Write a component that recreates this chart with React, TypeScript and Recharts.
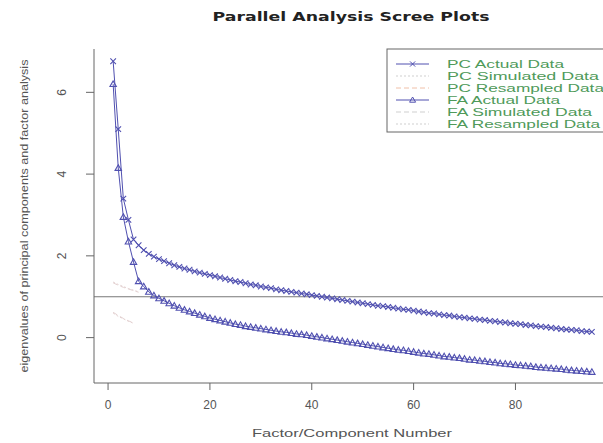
import React from "react";
import { ComposedChart, Line, XAxis, YAxis, ReferenceLine } from "recharts";

const title = "Parallel Analysis Scree Plots";
const xLabel = "Factor/Component Number";
const yLabel = "eigenvalues of principal components and factor analysis";
const xTicks = [0, 20, 40, 60, 80];
const yTicks = [0, 2, 4, 6];

const pcActual = [
  6.76, 5.1, 3.4, 2.88, 2.4, 2.26, 2.14, 2.05, 1.98, 1.92, 1.87, 1.82, 1.77, 1.73, 1.69, 1.66, 1.62, 1.59, 1.56, 1.53,
  1.5, 1.47, 1.44, 1.41, 1.38, 1.36, 1.33, 1.3, 1.28, 1.25, 1.23, 1.21, 1.18, 1.16, 1.14, 1.12, 1.1, 1.08, 1.06, 1.04,
  1.02, 1.0, 0.98, 0.96, 0.94, 0.92, 0.9, 0.88, 0.86, 0.84, 0.82, 0.8, 0.78, 0.77, 0.75, 0.73, 0.71, 0.69, 0.68, 0.66,
  0.64, 0.62, 0.6, 0.59, 0.57, 0.55, 0.54, 0.52, 0.5, 0.49, 0.47, 0.46, 0.44, 0.43, 0.41, 0.4, 0.38, 0.37, 0.35, 0.34,
  0.33, 0.31, 0.3, 0.28, 0.27, 0.26, 0.24, 0.23, 0.21, 0.2, 0.19, 0.18, 0.16, 0.15, 0.14,
];
const faActual = [
  6.2, 4.15, 2.95, 2.35, 1.85, 1.38, 1.25, 1.12, 1.03, 0.96, 0.9, 0.84, 0.78, 0.73, 0.68, 0.64, 0.6, 0.56, 0.52, 0.48,
  0.45, 0.42, 0.39, 0.36, 0.33, 0.31, 0.28, 0.26, 0.24, 0.22, 0.2, 0.18, 0.16, 0.14, 0.13, 0.11, 0.09, 0.08, 0.06, 0.04,
  0.02, 0.0, -0.02, -0.04, -0.06, -0.08, -0.1, -0.12, -0.14, -0.16, -0.18, -0.2, -0.22, -0.24, -0.26, -0.28, -0.3, -0.31,
  -0.33, -0.35, -0.37, -0.39, -0.4, -0.42, -0.44, -0.46, -0.47, -0.49, -0.5, -0.52, -0.54, -0.55, -0.57, -0.58, -0.6,
  -0.61, -0.63, -0.64, -0.65, -0.67, -0.68, -0.69, -0.7, -0.72, -0.73, -0.74, -0.75, -0.76, -0.77, -0.79, -0.8, -0.81,
  -0.82, -0.83, -0.84,
];
const pcSimulated = [1.36, 1.3, 1.25, 1.2, 1.16, 1.12];
const pcResampled = [1.34, 1.28, 1.23, 1.19, 1.15, 1.11];
const faSimulated = [0.62, 0.54, 0.47, 0.41, 0.36];
const faResampled = [0.6, 0.52, 0.46, 0.4, 0.35];

const data = pcActual.map((v, i) => ({
  n: i + 1,
  pcActual: v,
  faActual: faActual[i],
  pcSim: pcSimulated[i],
  pcRes: pcResampled[i],
  faSim: faSimulated[i],
  faRes: faResampled[i],
}));

const BLUE = "#5050b0";
const FAINT = "#e4d2d2";
const GREEN = "#4f9a5a";
const GREY = "#555";

const CrossDot = (p: any) => {
  const { cx, cy, index } = p;
  if (cx == null || cy == null) return <g key={index} />;
  const r = 2.8;
  return (
    <path
      key={index}
      d={`M${cx - r},${cy - r}L${cx + r},${cy + r}M${cx + r},${cy - r}L${cx - r},${cy + r}`}
      stroke={BLUE}
      strokeWidth={1.1}
      fill="none"
    />
  );
};

const TriDot = (p: any) => {
  const { cx, cy, index } = p;
  if (cx == null || cy == null) return <g key={index} />;
  const r = 3.2;
  return (
    <path
      key={index}
      d={`M${cx},${cy - r}L${cx + r},${cy + r * 0.75}L${cx - r},${cy + r * 0.75}Z`}
      stroke={BLUE}
      strokeWidth={1.1}
      fill="none"
    />
  );
};

const LABEL_X = 66;
const YTick = (p: any) => {
  const { y, payload } = p;
  return (
    <text
      x={LABEL_X}
      y={y}
      transform={`rotate(-90, ${LABEL_X}, ${y})`}
      textAnchor="middle"
      fontSize={12}
      fill={GREY}
      fontFamily="Liberation Sans, Arial, sans-serif"
    >
      {payload.value}
    </text>
  );
};

const legendItems = [
  { label: "PC  Actual Data", kind: "cross", color: BLUE, dash: undefined, width: 117 },
  { label: "PC  Simulated Data", kind: "none", color: "#cfcfcf", dash: "2 2", width: 152 },
  { label: "PC  Resampled Data", kind: "none", color: "#f0c0a8", dash: "5 3", width: 157 },
  { label: "FA  Actual Data", kind: "tri", color: BLUE, dash: undefined, width: 113 },
  { label: "FA  Simulated Data", kind: "none", color: "#cfcfcf", dash: "5 3", width: 145 },
  { label: "FA  Resampled Data", kind: "none", color: "#cfcfcf", dash: "2 2", width: 153 },
];

export default function App() {
  return (
    <div
      style={{
        position: "absolute",
        left: 0,
        top: 0,
        width: 603,
        height: 443,
        overflow: "hidden",
        background: "#fff",
      }}
    >
      <svg
        width={603}
        height={443}
        style={{ position: "absolute", left: 0, top: 0, pointerEvents: "none" }}
      >
        <text
          x={351}
          y={21}
          textAnchor="middle"
          fontSize={13}
          fontWeight="bold"
          fill="#222"
          fontFamily="DejaVu Sans, sans-serif"
          textLength={277}
          lengthAdjust="spacingAndGlyphs"
        >
          {title}
        </text>
        <text
          x={352}
          y={437}
          textAnchor="middle"
          fontSize={11}
          fill={GREY}
          fontFamily="Liberation Sans, Arial, sans-serif"
          textLength={200}
          lengthAdjust="spacingAndGlyphs"
        >
          {xLabel}
        </text>
        <text
          x={28}
          y={216}
          textAnchor="middle"
          fontSize={10}
          fill={GREY}
          transform="rotate(-90, 28, 216)"
          fontFamily="Liberation Sans, Arial, sans-serif"
          textLength={313}
          lengthAdjust="spacingAndGlyphs"
        >
          {yLabel}
        </text>
      </svg>
      <div style={{ position: "absolute", left: 0, top: 0 }}>
        <ComposedChart
          width={620}
          height={443}
          data={data}
          margin={{ top: 49, right: 9, bottom: 0, left: 0 }}
        >
          <XAxis
            xAxisId="top"
            orientation="top"
            dataKey="n"
            type="number"
            domain={[-2.76, 98.76]}
            height={0}
            tick={false}
            tickLine={false}
            axisLine={{ stroke: "#666" }}
          />
          <XAxis
            dataKey="n"
            type="number"
            domain={[-2.76, 98.76]}
            ticks={xTicks}
            height={60}
            tickSize={7}
            tickMargin={10}
            axisLine={{ stroke: "#666" }}
            tickLine={{ stroke: "#666" }}
            tick={{ fontSize: 12, fill: GREY, fontFamily: "Liberation Sans, Arial, sans-serif" }}
            allowDataOverflow
          />
          <YAxis
            type="number"
            domain={[-1.11, 7.06]}
            ticks={yTicks}
            width={94}
            tickSize={8}
            tickMargin={0}
            axisLine={{ stroke: "#666" }}
            tickLine={{ stroke: "#666" }}
            tick={<YTick />}
            allowDataOverflow
          />
          <ReferenceLine y={1} stroke="#777" strokeWidth={1.2} />
          <Line dataKey="pcSim" stroke={FAINT} strokeDasharray="2 2" dot={false} isAnimationActive={false} />
          <Line dataKey="pcRes" stroke={FAINT} strokeDasharray="5 3" dot={false} isAnimationActive={false} />
          <Line dataKey="faSim" stroke={FAINT} strokeDasharray="5 3" dot={false} isAnimationActive={false} />
          <Line dataKey="faRes" stroke={FAINT} strokeDasharray="2 2" dot={false} isAnimationActive={false} />
          <Line
            dataKey="pcActual"
            stroke={BLUE}
            strokeWidth={1}
            dot={<CrossDot />}
            isAnimationActive={false}
          />
          <Line
            dataKey="faActual"
            stroke={BLUE}
            strokeWidth={1}
            dot={<TriDot />}
            isAnimationActive={false}
          />
        </ComposedChart>
      </div>
      <svg
        width={603}
        height={443}
        style={{ position: "absolute", left: 0, top: 0, pointerEvents: "none" }}
      >
        <rect x={387} y={49} width={230} height={83} fill="#fff" stroke="#666" strokeWidth={1} />
        {legendItems.map((it, i) => {
          const y = 64 + i * 12;
          return (
            <g key={it.label}>
              <line x1={396} x2={429} y1={y} y2={y} stroke={it.color} strokeDasharray={it.dash} strokeWidth={1} />
              {it.kind === "cross" && (
                <path d={`M${410},${y - 2.6}L${415.2},${y + 2.6}M${415.2},${y - 2.6}L${410},${y + 2.6}`} stroke={BLUE} fill="none" />
              )}
              {it.kind === "tri" && (
                <path d={`M${412.6},${y - 3}L${415.6},${y + 2.2}L${409.6},${y + 2.2}Z`} stroke={BLUE} fill="none" />
              )}
              <text
                x={447}
                y={y + 4}
                fontSize={11}
                fill={GREEN}
                fontFamily="Liberation Sans, Arial, sans-serif"
                textLength={it.width}
                lengthAdjust="spacingAndGlyphs"
              >
                {it.label}
              </text>
            </g>
          );
        })}
      </svg>
    </div>
  );
}
